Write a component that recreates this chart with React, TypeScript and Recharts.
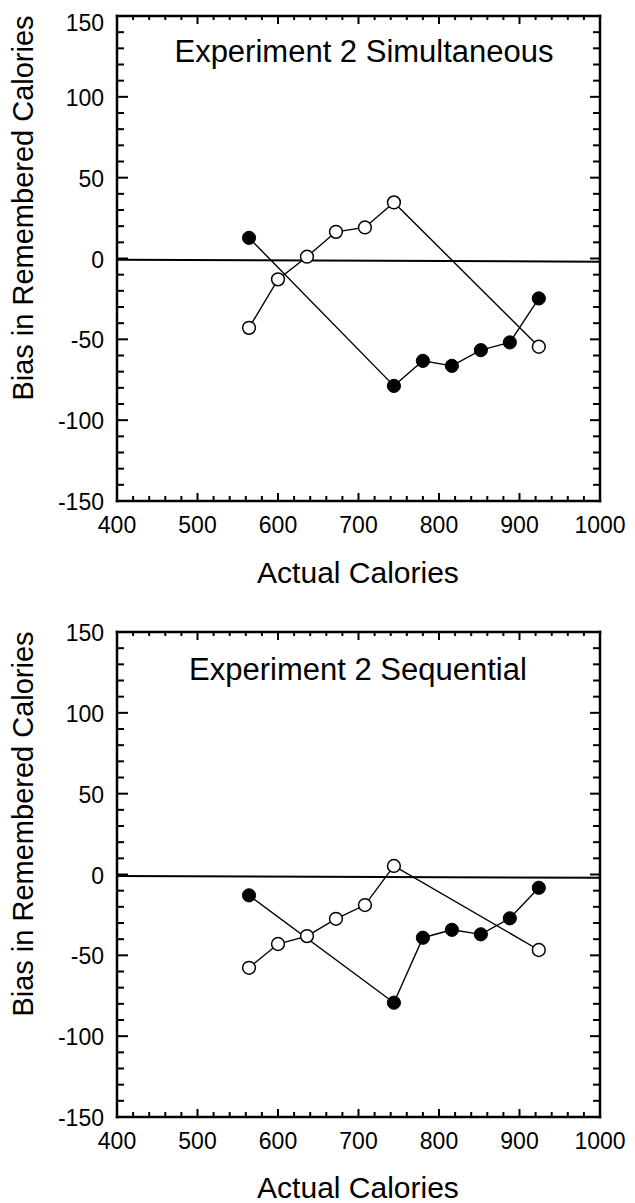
import React from "react";
import { ScatterChart, Scatter, XAxis, YAxis, ReferenceLine } from "recharts";

// ---- data ----
const filledX = [564, 744, 780, 816, 852, 888, 924];
const openX = [564, 600, 636, 672, 708, 744, 924];

const simFilled = [12.8, -78.8, -63.3, -66.4, -56.7, -51.9, -24.7];
const simOpen = [-42.9, -12.9, 1.1, 16.5, 19.2, 34.7, -54.6];
const seqFilled = [-12.9, -79.3, -39.1, -34.2, -37.0, -27.1, -8.2];
const seqOpen = [-57.7, -43.0, -38.1, -27.4, -18.9, 5.3, -46.7];

// near-zero reference line end values (at x=400 and x=1000)
const simZero = [-0.8, -2.0];
const seqZero = [-0.9, -2.0];

const xMajor = [400, 500, 600, 700, 800, 900, 1000];
const yMajor = [-150, -100, -50, 0, 50, 100, 150];

const titles = ["Experiment 2 Simultaneous", "Experiment 2 Sequential"];
const xTitle = "Actual Calories";
const yTitle = "Bias in Remembered Calories";

const xAll: number[] = [];
for (let v = 400; v <= 1000; v += 20) xAll.push(v);
const yAll: number[] = [];
for (let v = -150; v <= 150; v += 10) yAll.push(v);

const FONT = "'Liberation Sans', Arial, Helvetica, sans-serif";

const toPts = (xs: number[], ys: number[]) => xs.map((x, i) => ({ x, y: ys[i] }));

const tickStroke = { stroke: "#000", strokeWidth: 2 };

const BottomTick = (p: any) => {
  const v = p.payload.value;
  const major = xMajor.includes(v);
  return (
    <g>
      <line x1={p.x} x2={p.x} y1={p.y} y2={p.y - (major ? 8 : 5)} {...tickStroke} />
      {major && (
        <text x={p.x} y={p.y + 32} textAnchor="middle" fontSize={23} fontFamily={FONT} fill="#000">
          {v}
        </text>
      )}
    </g>
  );
};

const TopTick = (p: any) => {
  const v = p.payload.value;
  const major = xMajor.includes(v);
  return <line x1={p.x} x2={p.x} y1={p.y} y2={p.y + (major ? 8 : 4)} {...tickStroke} />;
};

const makeLeftTick = (shiftTop: number) => (p: any) => {
  const v = p.payload.value;
  const major = yMajor.includes(v);
  const dy = v === 150 ? shiftTop : 0;
  return (
    <g>
      <line x1={p.x} x2={p.x + (major ? 11 : 7)} y1={p.y} y2={p.y} {...tickStroke} />
      {major && (
        <text x={p.x - 13} y={p.y + 9 + dy} textAnchor="end" fontSize={23} fontFamily={FONT} fill="#000">
          {v}
        </text>
      )}
    </g>
  );
};

const RightTick = (p: any) => {
  const v = p.payload.value;
  const major = yMajor.includes(v);
  return <line x1={p.x} x2={p.x - (major ? 10 : 7)} y1={p.y} y2={p.y} {...tickStroke} />;
};

const FilledDot = (p: any) => <circle cx={p.cx} cy={p.cy} r={6.6} fill="#000" stroke="#000" strokeWidth={1} />;
const OpenDot = (p: any) => <circle cx={p.cx} cy={p.cy} r={6.4} fill="#fff" stroke="#000" strokeWidth={1.5} />;

const axisLine = { stroke: "#000", strokeWidth: 2.5, strokeLinecap: "square" as const };

const Panel = ({ filled, open, zero, shiftTop }: { filled: number[]; open: number[]; zero: number[]; shiftTop: number }) => (
  <ScatterChart width={635} height={587} margin={{ top: 15, right: 34, left: 116, bottom: 85 }}>
    <XAxis
      dataKey="x"
      type="number"
      domain={[400, 1000]}
      ticks={xAll}
      interval={0}
      height={1}
      tickSize={0}
      tickMargin={0}
      tickLine={false}
      axisLine={axisLine}
      tick={BottomTick}
      allowDataOverflow
    />
    <XAxis
      xAxisId="top"
      orientation="top"
      dataKey="x"
      type="number"
      domain={[400, 1000]}
      ticks={xAll}
      interval={0}
      height={1}
      tickSize={0}
      tickMargin={0}
      tickLine={false}
      axisLine={axisLine}
      tick={TopTick}
      allowDataOverflow
    />
    <YAxis
      dataKey="y"
      type="number"
      domain={[-150, 150]}
      ticks={yAll}
      interval={0}
      width={1}
      tickSize={0}
      tickMargin={0}
      tickLine={false}
      axisLine={axisLine}
      tick={makeLeftTick(shiftTop)}
      allowDataOverflow
    />
    <YAxis
      yAxisId="right"
      orientation="right"
      dataKey="y"
      type="number"
      domain={[-150, 150]}
      ticks={yAll}
      interval={0}
      width={1}
      tickSize={0}
      tickMargin={0}
      tickLine={false}
      axisLine={axisLine}
      tick={RightTick}
      allowDataOverflow
    />
    <ReferenceLine
      segment={[
        { x: 400, y: zero[0] },
        { x: 1000, y: zero[1] },
      ]}
      stroke="#000"
      strokeWidth={2}
      ifOverflow="visible"
    />
    <Scatter
      data={toPts(filledX, filled)}
      line={{ stroke: "#000", strokeWidth: 1.4 }}
      shape={FilledDot}
      isAnimationActive={false}
    />
    <Scatter
      data={toPts(openX, open)}
      line={{ stroke: "#000", strokeWidth: 1.4 }}
      shape={OpenDot}
      isAnimationActive={false}
    />
  </ScatterChart>
);

export default function App() {
  return (
    <div style={{ position: "absolute", left: 0, top: 0, width: 635, height: 1203, background: "#fff", overflow: "hidden" }}>
      <div style={{ position: "absolute", left: 0, top: 0 }}>
        <Panel filled={simFilled} open={simOpen} zero={simZero} shiftTop={6} />
      </div>
      <div style={{ position: "absolute", left: 0, top: 616 }}>
        <Panel filled={seqFilled} open={seqOpen} zero={seqZero} shiftTop={0} />
      </div>
      <svg width={635} height={1203} style={{ position: "absolute", left: 0, top: 0, pointerEvents: "none" }}>
        <g fontFamily={FONT} fill="#000">
          <text x={364} y={62} textAnchor="middle" fontSize={31}>{titles[0]}</text>
          <text x={358} y={680} textAnchor="middle" fontSize={31}>{titles[1]}</text>
          <text x={358} y={583} textAnchor="middle" fontSize={30}>{xTitle}</text>
          <text x={358} y={1198} textAnchor="middle" fontSize={30}>{xTitle}</text>
          <text x={33} y={208} textAnchor="middle" fontSize={29} transform="rotate(-90 33 208)">{yTitle}</text>
          <text x={33} y={824} textAnchor="middle" fontSize={29} transform="rotate(-90 33 824)">{yTitle}</text>
        </g>
      </svg>
    </div>
  );
}
